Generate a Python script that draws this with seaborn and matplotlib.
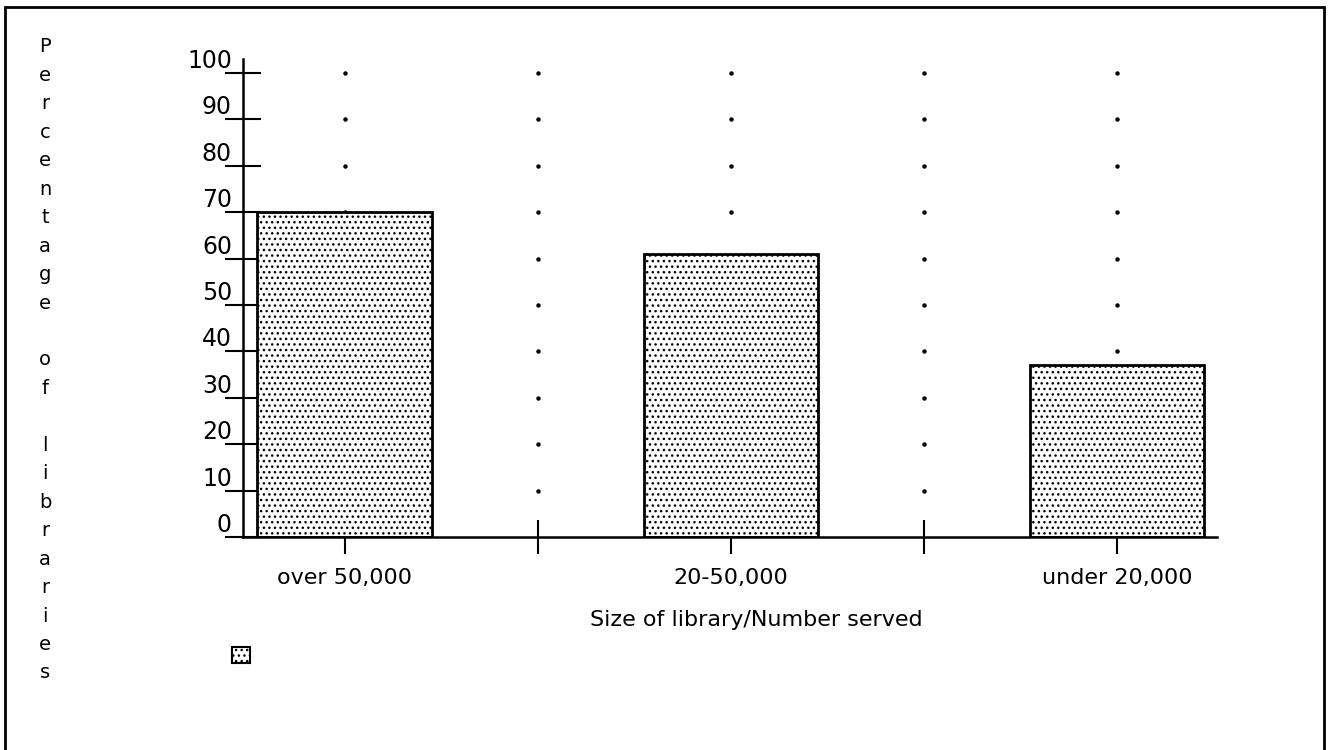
import numpy as np
import pandas as pd
import matplotlib
matplotlib.use("Agg")
import matplotlib.pyplot as plt
import seaborn as sns
from matplotlib.patches import Patch, Rectangle

# ======================================
# Data
# ======================================

categories = ["over 50,000", "20-50,000", "under 20,000"]
percentages = [70, 61, 37]
y_ticks = [0, 10, 20, 30, 40, 50, 60, 70, 80, 90, 100]
x_label = "Size of library/Number served"
y_label = "Percentage of libraries"

# ======================================
# Style
# ======================================

sns.set_theme(style="white")
plt.rcParams["font.family"] = ["DejaVu Sans"]
plt.rcParams["hatch.linewidth"] = 1.0
plt.rcParams["hatch.color"] = "black"

W, H = 1332, 750
fig = plt.figure(figsize=(W / 100, H / 100), dpi=100)
ax = fig.add_axes([243 / W, 213 / H, 974 / W, 478 / H])

df = pd.DataFrame({"size": categories, "pct": percentages})

sns.barplot(
    data=df,
    x="size",
    y="pct",
    color="white",
    edgecolor="black",
    linewidth=2,
    width=0.453,
    hatch="...",
    ax=ax,
    zorder=2,
)

ax.set_xlim(-0.264, 2.259)
ax.set_ylim(0, 103)

# dotted grid, one dot per tick crossing
grid_x = [0, 0.5, 1, 1.5, 2]
for gx in grid_x:
    ax.plot([gx] * len(y_ticks[1:]), y_ticks[1:], ls="none", marker="o",
            ms=2.2, color="black", zorder=1)

# ======================================
# Axes
# ======================================

ax.set_yticks(y_ticks)
ax.set_yticklabels([str(t) for t in y_ticks], va="bottom")
ax.set_xticks(grid_x)
ax.set_xticklabels([categories[0], "", categories[1], "", categories[2]])

ax.tick_params(axis="y", direction="inout", length=26, width=1.5,
               labelsize=17, pad=-5, left=True, colors="black")
ax.tick_params(axis="x", direction="inout", length=24, width=1.5,
               labelsize=16, pad=10, bottom=True, colors="black")

ax.set_ylabel("")
ax.set_xlabel(x_label, fontsize=16, va="center", color="black")
ax.xaxis.set_label_coords((756 - 243) / 974, -(620 - 537) / 478)

for side in ["top", "right"]:
    ax.spines[side].set_visible(False)
for side in ["left", "bottom"]:
    ax.spines[side].set_color("black")
    ax.spines[side].set_linewidth(1.8)

# vertical letter-by-letter y label
for i, ch in enumerate(y_label):
    fig.text(45 / W, 1 - (47 + i * 28.45) / H, ch, ha="center", va="center",
             fontsize=14, color="black")

# legend swatch without text
ax.legend(
    handles=[Patch(facecolor="white", edgecolor="black", hatch="...", lw=1.5)],
    labels=[""],
    loc="upper left",
    bbox_to_anchor=(232 / W, 1 - 647 / H),
    bbox_transform=fig.transFigure,
    frameon=False,
    handlelength=1.0,
    handleheight=1.0,
    borderpad=0,
    borderaxespad=0,
    handletextpad=0,
    fontsize=13,
)

# outer frame
fig.add_artist(Rectangle((5 / W, -0.05), (1324 - 5) / W, 1 - 7 / H + 0.05,
                         transform=fig.transFigure, fill=False, lw=2,
                         edgecolor="black", clip_on=False))

fig.savefig("out.png", dpi=100)
